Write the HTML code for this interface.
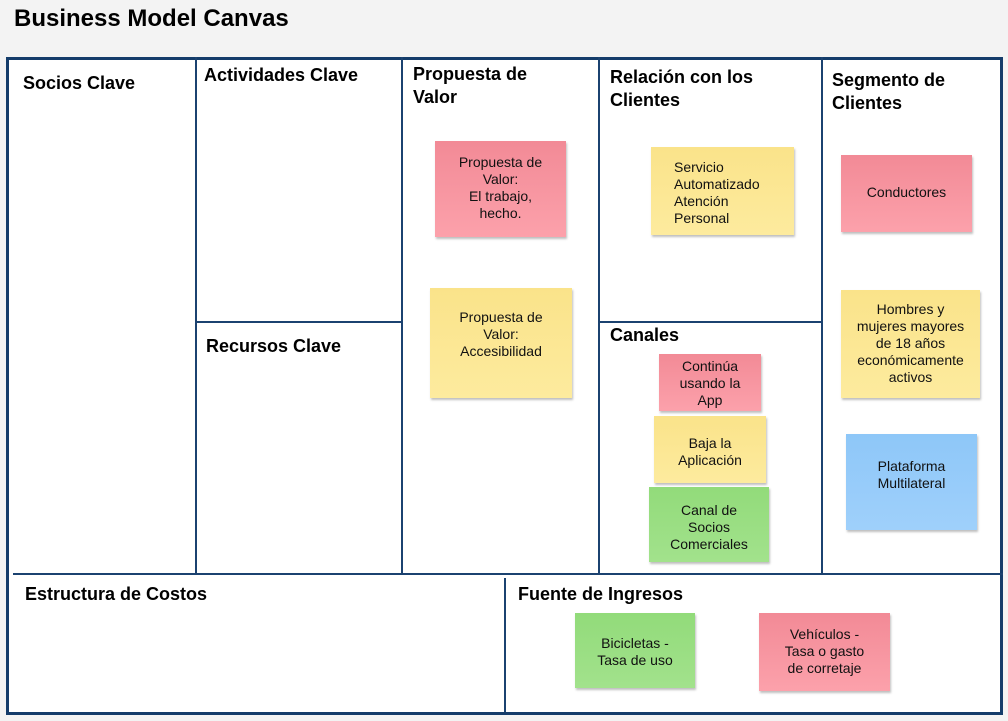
<!DOCTYPE html>
<html><head><meta charset="utf-8"><style>
body{margin:0;width:1008px;height:721px;background:#f3f3f3;position:relative;overflow:hidden;font-family:"Liberation Sans",sans-serif;}
.t{position:absolute;font-weight:bold;color:#000;}
.ln{position:absolute;background:#1b4270;}
.s{position:absolute;font-size:14px;line-height:17px;text-align:center;color:#111;box-shadow:1px 2px 2px rgba(0,0,0,0.25);box-sizing:border-box;}
.pk{background:linear-gradient(#f28a96,#fca1ab);}
.yl{background:linear-gradient(#fae38a,#fdeb9e);}
.gr{background:linear-gradient(#92db7a,#a2e28c);}
.bl{background:linear-gradient(#8ec7f8,#9fd0fb);}
</style></head><body>
<div class="t" style="left:14px;top:5px;font-size:24px;">Business Model Canvas</div>
<div style="position:absolute;left:6px;top:57px;width:991px;height:652px;border:3px solid #143c6a;background:#fff;"></div>
<div class="ln" style="left:195px;top:57px;width:2px;height:517px"></div>
<div class="ln" style="left:401px;top:57px;width:2px;height:517px"></div>
<div class="ln" style="left:598px;top:57px;width:2px;height:517px"></div>
<div class="ln" style="left:821px;top:57px;width:2px;height:517px"></div>
<div class="ln" style="left:196px;top:321px;width:206px;height:2px"></div>
<div class="ln" style="left:599px;top:321px;width:223px;height:2px"></div>
<div class="ln" style="left:13px;top:573px;width:990px;height:2px"></div>
<div class="ln" style="left:504px;top:578px;width:2px;height:134px"></div>

<div class="t" style="left:23px;top:73px;font-size:18px;">Socios Clave</div>
<div class="t" style="left:204px;top:65px;font-size:18px;">Actividades Clave</div>
<div class="t" style="left:206px;top:336px;font-size:18px;">Recursos Clave</div>
<div class="t" style="left:413px;top:63px;font-size:18px;line-height:23px;">Propuesta de<br>Valor</div>
<div class="t" style="left:610px;top:66px;font-size:18px;line-height:23px;">Relación con los<br>Clientes</div>
<div class="t" style="left:610px;top:325px;font-size:18px;">Canales</div>
<div class="t" style="left:832px;top:69px;font-size:18px;line-height:23px;">Segmento de<br>Clientes</div>
<div class="t" style="left:25px;top:584px;font-size:18px;">Estructura de Costos</div>
<div class="t" style="left:518px;top:584px;font-size:18px;">Fuente de Ingresos</div>

<div class="s pk" style="left:435px;top:141px;width:131px;height:96px;padding-top:13px;">Propuesta de<br>Valor:<br>El trabajo,<br>hecho.</div>
<div class="s yl" style="left:651px;top:147px;width:143px;height:88px;padding:12px 0 0 23px;text-align:left;">Servicio<br>Automatizado<br>Atención<br>Personal</div>
<div class="s yl" style="left:430px;top:288px;width:142px;height:110px;padding-top:21px;">Propuesta de<br>Valor:<br>Accesibilidad</div>
<div class="s pk" style="left:659px;top:354px;width:102px;height:57px;padding-top:4px;">Continúa<br>usando la<br>App</div>
<div class="s yl" style="left:654px;top:416px;width:112px;height:67px;padding-top:19px;">Baja la<br>Aplicación</div>
<div class="s gr" style="left:649px;top:487px;width:120px;height:75px;padding-top:15px;">Canal de<br>Socios<br>Comerciales</div>
<div class="s pk" style="left:841px;top:155px;width:131px;height:77px;padding-top:29px;">Conductores</div>
<div class="s yl" style="left:841px;top:290px;width:139px;height:108px;padding-top:11px;">Hombres y<br>mujeres mayores<br>de 18 años<br>económicamente<br>activos</div>
<div class="s bl" style="left:846px;top:434px;width:131px;height:96px;padding-top:24px;">Plataforma<br>Multilateral</div>
<div class="s gr" style="left:575px;top:613px;width:120px;height:75px;padding-top:22px;">Bicicletas -<br>Tasa de uso</div>
<div class="s pk" style="left:759px;top:613px;width:131px;height:78px;padding-top:13px;">Vehículos -<br>Tasa o gasto<br>de corretaje</div>
</body></html>
